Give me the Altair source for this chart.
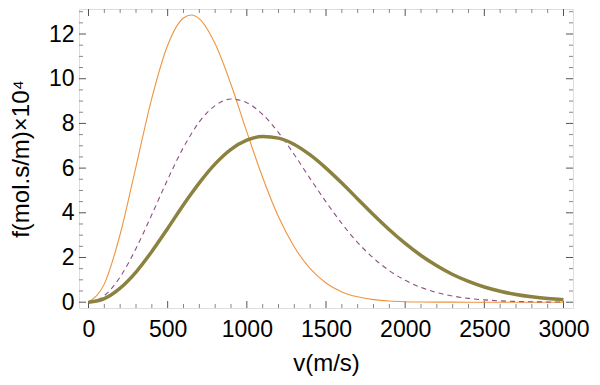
import altair as alt
import pandas as pd

# speed (m/s)
v = [0, 100, 200, 300, 400, 500, 600, 650, 700, 800, 900, 1000, 1100, 1200, 1300,
     1400, 1500, 1600, 1700, 1800, 1900, 2000, 2100, 2200, 2300, 2400, 2500,
     2600, 2700, 2800, 2900, 3000]
# f(v) x 10^4
orange = [0.0, 0.82, 3.04, 6.07, 9.13, 11.50, 12.72, 12.85, 12.68, 11.56, 9.74, 7.62,
          5.58, 3.82, 2.47, 1.50, 0.86, 0.46, 0.24, 0.115, 0.053, 0.023, 0.0095,
          0.0037, 0.0014, 0.0005, 0.0002, 0.0001, 0.0, 0.0, 0.0, 0.0]
purple = [0.0, 0.29, 1.13, 2.40, 3.92, 5.49, 6.93, 7.54, 8.07, 8.80, 9.09, 8.93,
          8.40, 7.59, 6.60, 5.53, 4.49, 3.52, 2.67, 1.97, 1.41, 0.98, 0.66,
          0.43, 0.275, 0.17, 0.103, 0.060, 0.034, 0.019, 0.010, 0.0055]
olive = [0.0, 0.16, 0.63, 1.35, 2.27, 3.30, 4.36, 4.86, 5.34, 6.19, 6.84, 7.25,
         7.42, 7.34, 7.06, 6.59, 6.00, 5.33, 4.62, 3.91, 3.24, 2.63, 2.09,
         1.63, 1.24, 0.93, 0.68, 0.49, 0.345, 0.24, 0.16, 0.108]

x_labels = [0, 500, 1000, 1500, 2000, 2500, 3000]
x_minor = [t for t in range(100, 3000, 100) if t % 500 != 0]
y_labels = [0, 2, 4, 6, 8, 10, 12]
y_minor = [k / 2 for k in range(1, 27) if k % 4 != 0]

W, H = 494, 299
xs = alt.Scale(domain=[-60, 3060], nice=False, zero=False)
ys = alt.Scale(domain=[-0.26, 13.12], nice=False, zero=False)

df = pd.DataFrame({"v": v, "orange": orange, "purple": purple, "olive": olive})

x_axis = alt.Axis(values=x_labels, format="d", ticks=False, domain=False, grid=False,
                  orient="bottom", labelFontSize=23, labelColor="black", labelPadding=10,
                  titleFontSize=24, titleFontWeight="normal", titleColor="black",
                  titlePadding=10, labelFlush=False)
y_axis = alt.Axis(values=y_labels, format="d", ticks=False, domain=False, grid=False,
                  orient="left", labelFontSize=23, labelColor="black", labelPadding=5,
                  titleFontSize=24, titleFontWeight="normal", titleColor="black",
                  titlePadding=15, labelFlush=False)

base = alt.Chart(df)


def line(field, color, width, dash=None, with_axes=False):
    kw = dict(color=color, strokeWidth=width, interpolate="monotone")
    if dash:
        kw["strokeDash"] = dash
    return base.mark_line(**kw).encode(
        x=alt.X("v:Q", scale=xs, axis=x_axis if with_axes else None, title="v(m/s)"),
        y=alt.Y(f"{field}:Q", scale=ys, axis=y_axis if with_axes else None,
                title="f(mol.s/m)×10⁴"),
    )


l1 = line("orange", "#EF9440", 1.1, with_axes=True)
l2 = line("purple", "#8E4E86", 1.1, dash=[5, 4])
l3 = line("olive", "#8C8240", 3.5)


def xticks(vals, y0, y1, color):
    return alt.Chart(pd.DataFrame({"t": vals})).mark_rule(color=color, strokeWidth=1).encode(
        x=alt.X("t:Q", scale=xs, axis=None), y=alt.value(y0), y2=alt.value(y1))


def yticks(vals, x0, x1, color):
    return alt.Chart(pd.DataFrame({"t": vals})).mark_rule(color=color, strokeWidth=1).encode(
        y=alt.Y("t:Q", scale=ys, axis=None), x=alt.value(x0), x2=alt.value(x1))


MAJ, MIN = 7, 4
cmaj, cmin = "#555555", "#888888"
ticks = [
    xticks(x_labels, H, H - MAJ, cmaj), xticks(x_minor, H, H - MIN, cmin),
    xticks(x_labels, 0, MAJ, cmaj), xticks(x_minor, 0, MIN, cmin),
    yticks(y_labels, 0, MAJ, cmaj), yticks(y_minor, 0, MIN, cmin),
    yticks(y_labels, W, W - MAJ, cmaj), yticks(y_minor, W, W - MIN, cmin),
]

chart = alt.layer(*ticks, l1, l2, l3).resolve_axis(
    x="independent", y="independent"
).properties(
    width=W, height=H,
    padding={"left": 71, "top": 1, "right": 19, "bottom": 68},
    autosize=alt.AutoSizeParams(type="none"),
).configure_view(stroke="#999999", strokeWidth=1.2).configure(
    font="Liberation Sans", background="white"
)

chart.save("out.html", embed_options={"renderer": "svg", "actions": False})
